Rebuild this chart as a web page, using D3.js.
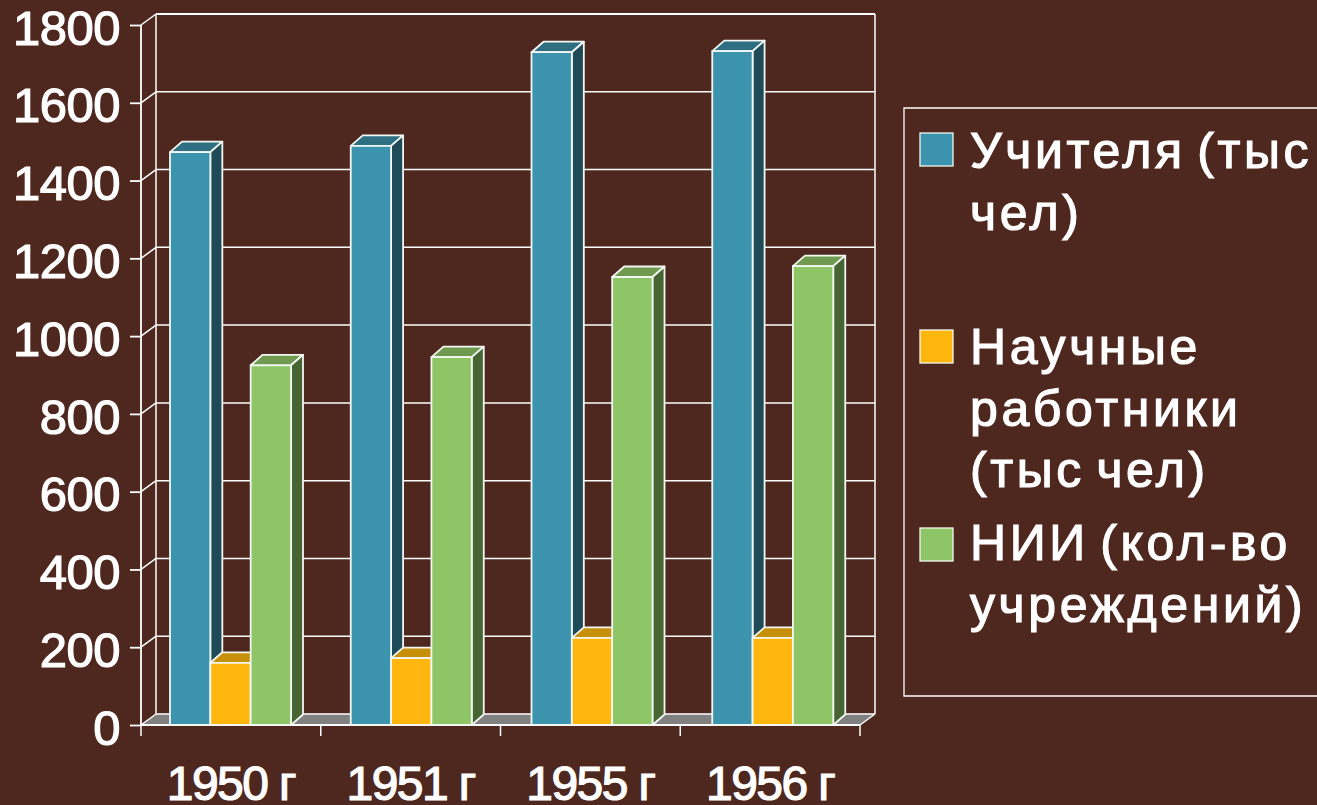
<!DOCTYPE html>
<html>
<head>
<meta charset="utf-8">
<script src="https://cdnjs.cloudflare.com/ajax/libs/d3/7.8.5/d3.min.js"></script>
<style>
  html, body { margin: 0; padding: 0; background: #4e281f; overflow: hidden; }
  text { font-family: "Liberation Sans", Arial, sans-serif; fill: #fff; stroke: #fff; stroke-width: 1.2px; }
  .domain { display: none; }
</style>
</head>
<body>
<div id="chart"></div>
<script>
const years = ["1950 г", "1951 г", "1955 г", "1956 г"];
const seriesKeys = ["teachers", "scientists", "institutes"];
const teachers = [1473, 1489, 1730, 1733];
const scientists = [160, 172, 224, 224];
const institutes = [925, 946, 1152, 1180];
const yTicks = [0, 200, 400, 600, 800, 1000, 1200, 1400, 1600, 1800];
const legendLines = [
    ["Учителя (тыс", "чел)"],
    ["Научные", "работники", "(тыс чел)"],
    ["НИИ (кол-во", "учреждений)"]
];
const values = { teachers, scientists, institutes };

const colors = {
    teachers: { front: "#3b93ad", side: "#1f4a57", top: "#2e6f82" },
    scientists: { front: "#ffb70f", side: "#a67a0a", top: "#c6900a" },
    institutes: { front: "#8ec566", side: "#476433", top: "#6f9a50" }
};

const width = 1317, height = 805;
const svg = d3.select("#chart").append("svg")
    .attr("width", width)
    .attr("height", height)
    .style("display", "block");

// front plane of the chart box
const x0 = d3.scaleBand().domain(years).range([141, 860]);
// the bar groups drift a little to the right of the ticks in the original
const xBars = d3.scaleBand().domain(years).range([141, 864]);
const x1 = d3.scaleBand().domain(seriesKeys).range([29, 150]);
const y = d3.scaleLinear().domain([0, 1800]).range([725, 25]);

// offset of the back wall and of the bar depth
const wallDx = 15, wallDy = -11;
const barDx = 12, barDy = -10.5;
const line = "#fff";

// floor
const floorY = y(0);
svg.append("path")
    .attr("d", `M${x0.range()[0]},${floorY}L${x0.range()[0] + wallDx},${floorY + wallDy}L${x0.range()[1] + wallDx},${floorY + wallDy}L${x0.range()[1]},${floorY}Z`)
    .attr("fill", "#808080")
    .attr("stroke", "none");

// back wall: grid lines and the slanted bits down to the axis
yTicks.forEach(t => {
    svg.append("line")
        .attr("x1", x0.range()[0]).attr("y1", y(t))
        .attr("x2", x0.range()[0] + wallDx).attr("y2", y(t) + wallDy)
        .attr("stroke", line).attr("stroke-width", 1.5);
    svg.append("line")
        .attr("x1", x0.range()[0] + wallDx).attr("y1", y(t) + wallDy)
        .attr("x2", x0.range()[1] + wallDx).attr("y2", y(t) + wallDy)
        .attr("stroke", line).attr("stroke-width", t === 1800 ? 1.8 : 1.5);
});
[x0.range()[0] + wallDx, x0.range()[1] + wallDx].forEach(xx => {
    svg.append("line")
        .attr("x1", xx).attr("y1", y(0) + wallDy)
        .attr("x2", xx).attr("y2", y(1800) + wallDy)
        .attr("stroke", line).attr("stroke-width", 1.5);
});
svg.append("line")
    .attr("x1", x0.range()[1]).attr("y1", floorY)
    .attr("x2", x0.range()[1] + wallDx).attr("y2", floorY + wallDy)
    .attr("stroke", line).attr("stroke-width", 1.5);

// axes
const yAxis = svg.append("g")
    .attr("transform", `translate(${x0.range()[0]},0)`)
    .call(d3.axisLeft(y).tickValues(yTicks).tickFormat(d3.format("d")).tickSize(11).tickPadding(10));
yAxis.selectAll("line").attr("stroke", line).attr("stroke-width", 1.8);
yAxis.selectAll("text").attr("font-size", 49).attr("dy", "0.39em").attr("letter-spacing", -0.5);
svg.append("line")
    .attr("x1", x0.range()[0]).attr("y1", y(1800))
    .attr("x2", x0.range()[0]).attr("y2", y(0))
    .attr("stroke", line).attr("stroke-width", 1.8);

const xAxis = svg.append("g")
    .attr("transform", `translate(0,${floorY})`)
    .call(d3.axisBottom(x0).tickSize(0).tickPadding(41));
xAxis.selectAll("text").attr("font-size", 48).attr("dy", "0.71em").attr("letter-spacing", -1.6);
svg.append("line")
    .attr("x1", x0.range()[0]).attr("y1", floorY)
    .attr("x2", x0.range()[1]).attr("y2", floorY)
    .attr("stroke", line).attr("stroke-width", 1.8);
d3.range(years.length + 1).forEach(i => {
    const xx = x0.range()[0] + i * x0.step();
    svg.append("line")
        .attr("x1", xx).attr("y1", floorY)
        .attr("x2", xx).attr("y2", floorY + 11)
        .attr("stroke", line).attr("stroke-width", 1.5);
});

// bars, left to right so that each one hides the side of the previous
years.forEach((year, i) => {
    seriesKeys.forEach(key => {
        const xa = xBars(year) + x1(key);
        const xb = xa + x1.bandwidth();
        const yt = y(values[key][i]);
        const c = colors[key];
        const g = svg.append("g")
            .attr("stroke", "#f2f7f2")
            .attr("stroke-width", 1.8)
            .attr("stroke-linejoin", "round");
        g.append("path")
            .attr("d", `M${xa},${yt}L${xa + barDx},${yt + barDy}L${xb + barDx},${yt + barDy}L${xb},${yt}Z`)
            .attr("fill", c.top);
        g.append("path")
            .attr("d", `M${xb},${yt}L${xb + barDx},${yt + barDy}L${xb + barDx},${floorY + barDy}L${xb},${floorY}Z`)
            .attr("fill", c.side);
        g.append("rect")
            .attr("x", xa).attr("y", yt)
            .attr("width", x1.bandwidth()).attr("height", floorY - yt)
            .attr("fill", c.front);
    });
});

// legend, its right side runs off the page
svg.append("path")
    .attr("d", `M${width},108H904V696H${width}`)
    .attr("fill", "none")
    .attr("stroke", line)
    .attr("stroke-width", 1.3);

const legendSwatchY = [133, 330, 528];
const legendBaseline = [168, 364, 560];
const legendLeading = 61.5;
seriesKeys.forEach((key, i) => {
    svg.append("rect")
        .attr("x", 920).attr("y", legendSwatchY[i])
        .attr("width", 33).attr("height", 33)
        .attr("fill", colors[key].front)
        .attr("stroke", "#f2f7f2").attr("stroke-width", 1.3);
    legendLines[i].forEach((txt, j) => {
        svg.append("text")
            .attr("x", 970)
            .attr("y", legendBaseline[i] + j * legendLeading)
            .attr("font-size", 50)
            .attr("letter-spacing", 3.6)
            .attr("word-spacing", -6)
            .text(txt);
    });
});
</script>
</body>
</html>
